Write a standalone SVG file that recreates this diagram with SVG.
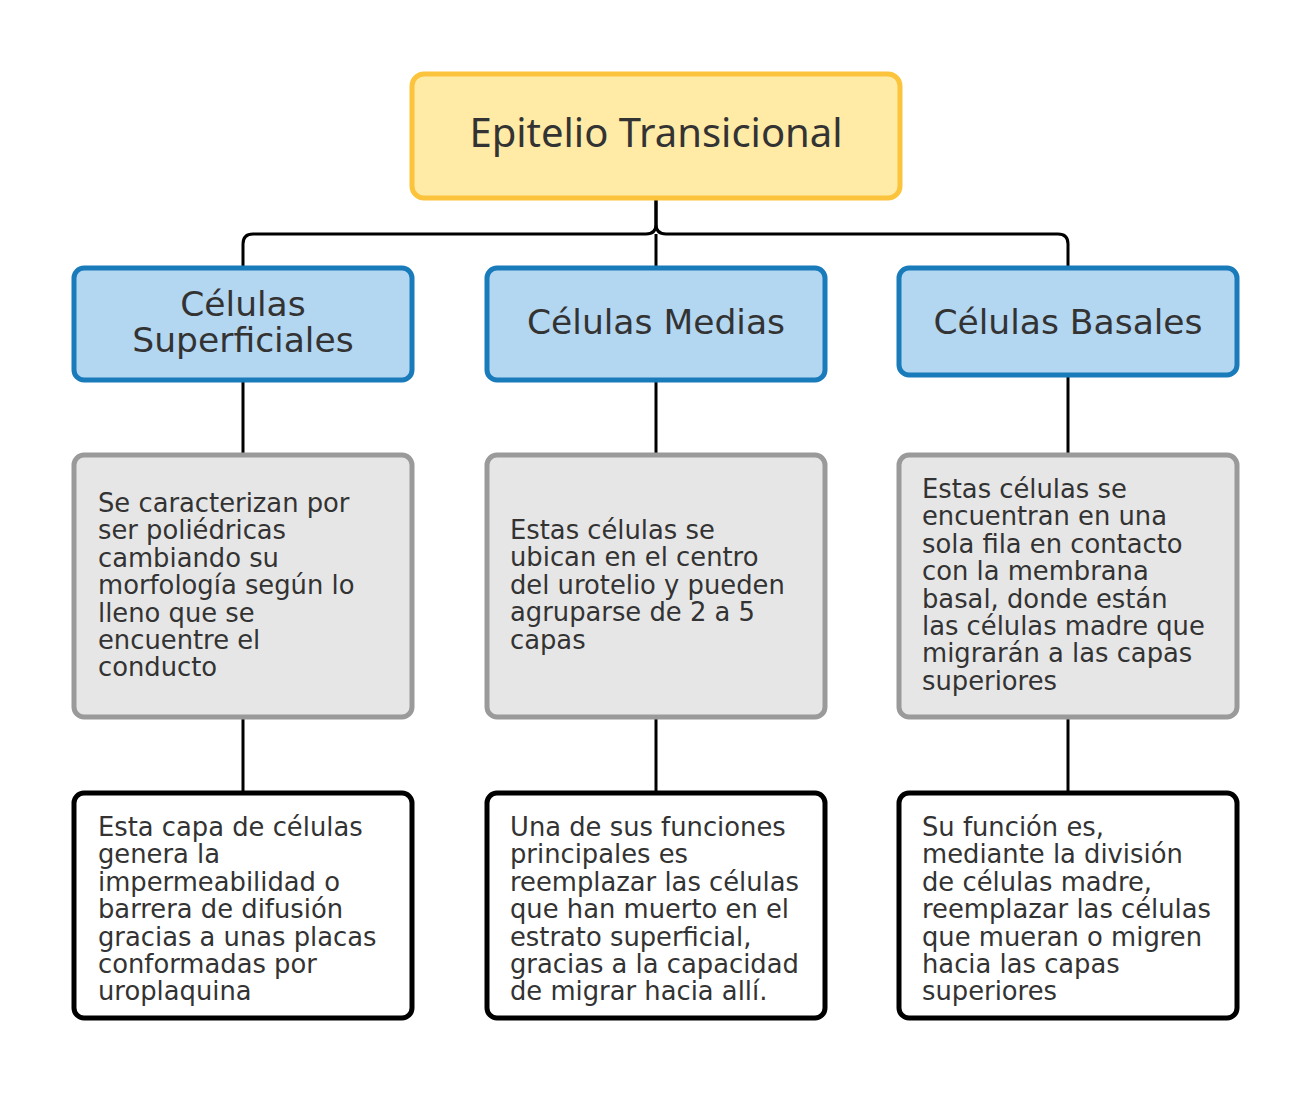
<svg xmlns="http://www.w3.org/2000/svg" width="1313" height="1093" viewBox="0 0 1313 1093">
<style>
.t{font-family:"DejaVu Sans","Noto Sans",sans-serif;fill:#333333}
.title{font-family:"Noto Sans","DejaVu Sans",sans-serif;font-size:40px}
.h{font-size:34.5px}
.b{font-size:25.8px}
.root{fill:#FFEBA6;stroke:#FBC43C;stroke-width:5}
.l2{fill:#B3D6F1;stroke:#1A7BBB;stroke-width:5}
.l3{fill:#E6E6E6;stroke:#9A9A9A;stroke-width:5}
.l4{fill:#FFFFFF;stroke:#000000;stroke-width:5}
.c{fill:none;stroke:#000000;stroke-width:3}
</style>
<rect width="1313" height="1093" fill="#FFFFFF"/>
<g id="connectors">
<path class="c" d="M656,198 L656,224 Q656,234 646,234 L253,234 Q243,234 243,244 L243,268"/>
<path class="c" d="M656,198 L656,224 Q656,234 666,234 L1058,234 Q1068,234 1068,244 L1068,268"/>
<path class="c" d="M656,234 L656,268"/>
<path class="c" d="M243,380 L243,455 M656,380 L656,455 M1068,375 L1068,455"/>
<path class="c" d="M243,717 L243,793 M656,717 L656,793 M1068,717 L1068,793"/>
</g>
<g id="root">
<rect class="root" x="412" y="74" width="488" height="124" rx="12"/>
<text class="t title" x="656" y="147" text-anchor="middle">Epitelio Transicional</text>
</g>
<g id="sup">
<rect class="l2" x="74" y="268" width="338" height="112" rx="10"/>
<text class="t h" x="243" y="316" text-anchor="middle">Células</text>
<text class="t h" x="243" y="352" text-anchor="middle">Superficiales</text>
</g>
<g id="med">
<rect class="l2" x="487" y="268" width="338" height="112" rx="10"/>
<text class="t h" x="656" y="334" text-anchor="middle">Células Medias</text>
</g>
<g id="bas">
<rect class="l2" x="899" y="268" width="338" height="107" rx="10"/>
<text class="t h" x="1068" y="334" text-anchor="middle">Células Basales</text>
</g>
<g id="sup-desc">
<rect class="l3" x="74" y="455" width="338" height="262" rx="10"/>
<text class="t b" x="98" y="512"><tspan x="98">Se caracterizan por</tspan><tspan x="98" dy="27.4">ser poliédricas</tspan><tspan x="98" dy="27.4">cambiando su</tspan><tspan x="98" dy="27.4">morfología según lo</tspan><tspan x="98" dy="27.4">lleno que se</tspan><tspan x="98" dy="27.4">encuentre el</tspan><tspan x="98" dy="27.4">conducto</tspan></text>
</g>
<g id="med-desc">
<rect class="l3" x="487" y="455" width="338" height="262" rx="10"/>
<text class="t b" x="510" y="539"><tspan x="510">Estas células se</tspan><tspan x="510" dy="27.4">ubican en el centro</tspan><tspan x="510" dy="27.4">del urotelio y pueden</tspan><tspan x="510" dy="27.4">agruparse de 2 a 5</tspan><tspan x="510" dy="27.4">capas</tspan></text>
</g>
<g id="bas-desc">
<rect class="l3" x="899" y="455" width="338" height="262" rx="10"/>
<text class="t b" x="922" y="498"><tspan x="922">Estas células se</tspan><tspan x="922" dy="27.4">encuentran en una</tspan><tspan x="922" dy="27.4">sola fila en contacto</tspan><tspan x="922" dy="27.4">con la membrana</tspan><tspan x="922" dy="27.4">basal, donde están</tspan><tspan x="922" dy="27.4">las células madre que</tspan><tspan x="922" dy="27.4">migrarán a las capas</tspan><tspan x="922" dy="27.4">superiores</tspan></text>
</g>
<g id="sup-func">
<rect class="l4" x="74" y="793" width="338" height="225" rx="10"/>
<text class="t b" x="98" y="836"><tspan x="98">Esta capa de células</tspan><tspan x="98" dy="27.4">genera la</tspan><tspan x="98" dy="27.4">impermeabilidad o</tspan><tspan x="98" dy="27.4">barrera de difusión</tspan><tspan x="98" dy="27.4">gracias a unas placas</tspan><tspan x="98" dy="27.4">conformadas por</tspan><tspan x="98" dy="27.4">uroplaquina</tspan></text>
</g>
<g id="med-func">
<rect class="l4" x="487" y="793" width="338" height="225" rx="10"/>
<text class="t b" x="510" y="836"><tspan x="510">Una de sus funciones</tspan><tspan x="510" dy="27.4">principales es</tspan><tspan x="510" dy="27.4">reemplazar las células</tspan><tspan x="510" dy="27.4">que han muerto en el</tspan><tspan x="510" dy="27.4">estrato superficial,</tspan><tspan x="510" dy="27.4">gracias a la capacidad</tspan><tspan x="510" dy="27.4">de migrar hacia allí.</tspan></text>
</g>
<g id="bas-func">
<rect class="l4" x="899" y="793" width="338" height="225" rx="10"/>
<text class="t b" x="922" y="836"><tspan x="922">Su función es,</tspan><tspan x="922" dy="27.4">mediante la división</tspan><tspan x="922" dy="27.4">de células madre,</tspan><tspan x="922" dy="27.4">reemplazar las células</tspan><tspan x="922" dy="27.4">que mueran o migren</tspan><tspan x="922" dy="27.4">hacia las capas</tspan><tspan x="922" dy="27.4">superiores</tspan></text>
</g>
</svg>
